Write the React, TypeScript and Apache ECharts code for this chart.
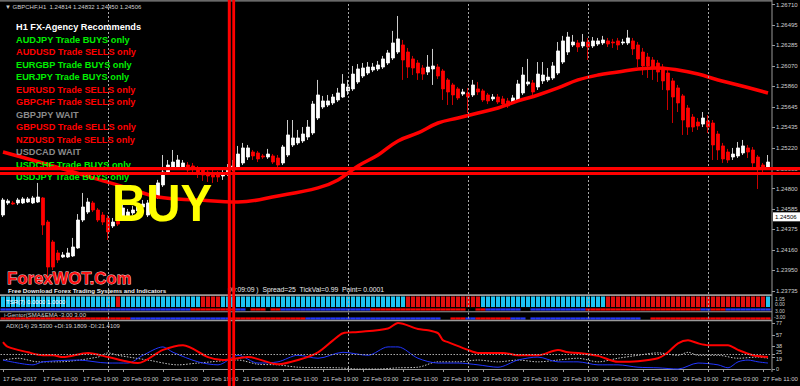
import React, { useEffect, useRef } from 'react';
import * as echarts from 'echarts';

const TICK_LABELS = ['17 Feb 2017','17 Feb 11:00','17 Feb 19:00','20 Feb 03:00','20 Feb 11:00','20 Feb 19:00','21 Feb 03:00','21 Feb 11:00','21 Feb 19:00','22 Feb 03:00','22 Feb 11:00','22 Feb 19:00','23 Feb 03:00','23 Feb 11:00','23 Feb 19:00','24 Feb 03:00','24 Feb 11:00','24 Feb 19:00','27 Feb 03:00','27 Feb 11:00'];
const DAY_BREAKS = [21, 45, 69, 93, 117, 141];
const PRICE_TICKS = [1.2671,1.26495,1.26285,1.2607,1.2586,1.25645,1.25435,1.2522,1.25005,1.248,1.24585,1.24375,1.2416,1.2395,1.23735];
const ADX_TICKS = [0, 19, 25, 38, 57, 77];
const LAST_PRICE = 1.24506;

const OPEN = [
1.24525,1.24650,1.24650,1.24650,1.24650,1.24660,1.24650,1.24660,1.24702,1.24452,
1.24245,1.24131,1.24089,1.24089,1.24100,1.24183,1.24473,1.24556,1.24650,1.24577,
1.24525,1.24494,1.24411,1.24473,1.24504,1.24504,1.24546,1.24567,1.24608,1.24525,
1.24639,1.24712,1.24837,1.24971,1.25023,1.25023,1.25013,1.25044,1.25034,1.25013,
1.24992,1.24971,1.24961,1.24950,1.24930,1.24961,1.25013,1.25023,1.25065,1.25127,
1.25179,1.25169,1.25138,1.25127,1.25138,1.25117,1.25065,1.25148,1.25252,1.25273,
1.25294,1.25335,1.25377,1.25532,1.25646,1.25667,1.25688,1.25719,1.25750,1.25813,
1.25834,1.25906,1.25968,1.25999,1.26030,1.26041,1.26061,1.26103,1.26155,1.26217,
1.26290,1.26217,1.26145,1.26103,1.26051,1.26009,1.26041,1.26061,1.26020,1.25927,
1.25875,1.25834,1.25781,1.25792,1.25771,1.25834,1.25813,1.25771,1.25730,1.25750,
1.25730,1.25709,1.25698,1.25719,1.25792,1.25885,1.25896,1.25854,1.25917,1.25927,
1.25947,1.25999,1.26113,1.26217,1.26290,1.26311,1.26280,1.26321,1.26280,1.26300,
1.26311,1.26332,1.26321,1.26332,1.26311,1.26311,1.26332,1.26290,1.26217,1.26165,
1.26134,1.26103,1.26061,1.25999,1.25917,1.25844,1.25761,1.25636,1.25542,1.25490,
1.25469,1.25501,1.25480,1.25366,1.25242,1.25179,1.25127,1.25138,1.25169,1.25221,
1.25200,1.25127,1.25044,1.25023];
const CLOSE = [
1.24681,1.24671,1.24639,1.24681,1.24692,1.24692,1.24702,1.24712,1.24421,1.23985,
1.23985,1.24058,1.24110,1.24131,1.24193,1.24473,1.24608,1.24660,1.24577,1.24473,
1.24452,1.24349,1.24452,1.24431,1.24598,1.24556,1.24577,1.24619,1.24639,1.24650,
1.24702,1.24858,1.24971,1.25044,1.25075,1.25096,1.25065,1.24992,1.25003,1.24961,
1.24940,1.24930,1.24919,1.24919,1.24961,1.25013,1.25034,1.25158,1.25221,1.25221,
1.25138,1.25107,1.25127,1.25158,1.25075,1.25044,1.25231,1.25356,1.25325,1.25325,
1.25366,1.25438,1.25677,1.25771,1.25709,1.25709,1.25750,1.25792,1.25885,1.25854,
1.25988,1.26041,1.26051,1.26061,1.26061,1.26082,1.26145,1.26207,1.26311,1.26353,
1.26134,1.26061,1.26051,1.25999,1.25988,1.26061,1.26072,1.25968,1.25834,1.25802,
1.25771,1.25740,1.25802,1.25750,1.25875,1.25802,1.25719,1.25709,1.25750,1.25698,
1.25677,1.25657,1.25740,1.25885,1.25978,1.25906,1.25802,1.25988,1.25978,1.25957,
1.26072,1.26228,1.26332,1.26373,1.26321,1.26269,1.26321,1.26269,1.26332,1.26332,
1.26342,1.26300,1.26311,1.26290,1.26321,1.26363,1.26249,1.26145,1.26072,1.26072,
1.26061,1.26009,1.25917,1.25823,1.25750,1.25688,1.25511,1.25438,1.25438,1.25449,
1.25532,1.25438,1.25252,1.25200,1.25107,1.25096,1.25158,1.25221,1.25242,1.25179,
1.25065,1.25023,1.25013,1.25075];
const HIGH = [
1.24702,1.24692,1.24671,1.24702,1.24712,1.24712,1.24723,1.24858,1.24712,1.24473,
1.24266,1.24162,1.24141,1.24183,1.24287,1.24535,1.24754,1.24702,1.24671,1.24598,
1.24556,1.24525,1.24494,1.24515,1.24629,1.24588,1.24619,1.24650,1.24681,1.24681,
1.24733,1.24889,1.25148,1.25096,1.25200,1.25148,1.25096,1.25075,1.25065,1.25034,
1.25013,1.24992,1.24992,1.24982,1.24992,1.25054,1.25096,1.25242,1.25273,1.25252,
1.25200,1.25190,1.25158,1.25211,1.25158,1.25148,1.25252,1.25511,1.25511,1.25408,
1.25438,1.25511,1.25709,1.25927,1.25761,1.25771,1.25781,1.25844,1.25988,1.25927,
1.26072,1.26092,1.26103,1.26113,1.26103,1.26124,1.26176,1.26238,1.26436,1.26591,
1.26342,1.26259,1.26176,1.26134,1.26082,1.26186,1.26249,1.26092,1.26041,1.25947,
1.25896,1.25854,1.25834,1.25844,1.25927,1.25906,1.25834,1.25792,1.25781,1.25781,
1.25761,1.25740,1.25771,1.25927,1.26061,1.26145,1.25927,1.26113,1.26113,1.26051,
1.26113,1.26321,1.26384,1.26425,1.26394,1.26342,1.26404,1.26363,1.26373,1.26363,
1.26384,1.26363,1.26353,1.26363,1.26353,1.26446,1.26363,1.26321,1.26259,1.26207,
1.26165,1.26134,1.26092,1.26030,1.25947,1.25875,1.25781,1.25667,1.25573,1.25532,
1.25594,1.25563,1.25511,1.25398,1.25273,1.25211,1.25221,1.25283,1.25304,1.25252,
1.25231,1.25148,1.25065,1.25148];
const LOW = [
1.24504,1.24629,1.24629,1.24629,1.24639,1.24650,1.24639,1.24650,1.24318,1.23892,
1.23954,1.24027,1.24079,1.24079,1.24089,1.24173,1.24452,1.24535,1.24556,1.24452,
1.24421,1.24266,1.24390,1.24411,1.24484,1.24484,1.24525,1.24546,1.24577,1.24504,
1.24619,1.24692,1.24816,1.24940,1.25003,1.25003,1.24992,1.24971,1.24971,1.24909,
1.24879,1.24868,1.24858,1.24868,1.24889,1.24930,1.24982,1.25013,1.25044,1.25096,
1.25096,1.25075,1.25107,1.25107,1.25054,1.25023,1.25044,1.25127,1.25231,1.25252,
1.25273,1.25304,1.25356,1.25511,1.25626,1.25646,1.25667,1.25698,1.25740,1.25771,
1.25813,1.25885,1.25947,1.25978,1.26009,1.26020,1.26041,1.26082,1.26134,1.26196,
1.25927,1.25947,1.25978,1.25927,1.25927,1.25978,1.25875,1.25937,1.25719,1.25667,
1.25667,1.25719,1.25761,1.25584,1.25750,1.25771,1.25698,1.25677,1.25709,1.25677,
1.25657,1.25636,1.25677,1.25698,1.25771,1.25865,1.25771,1.25823,1.25885,1.25906,
1.25927,1.25978,1.26092,1.26186,1.26269,1.26217,1.26259,1.26134,1.26259,1.26280,
1.26290,1.26269,1.26259,1.26238,1.26290,1.26290,1.26186,1.26061,1.25978,1.25947,
1.25927,1.25906,1.25823,1.25615,1.25480,1.25594,1.25356,1.25356,1.25387,1.25408,
1.25438,1.25377,1.25096,1.25096,1.25065,1.25065,1.25096,1.25117,1.25148,1.25117,
1.25023,1.24795,1.24940,1.24992];

const MA_POINTS = [[0,1.25179],[10,1.25034],[20,1.24879],[25,1.24806],[31,1.24712],[39,1.24681],[47,1.24660],[55,1.24723],[63,1.24806],[67,1.24889],[71,1.25034],[75,1.25148],[79,1.25294],[83,1.25377],[87,1.25480],[91,1.25532],[95,1.25584],[99,1.25636],[103,1.25709],[107,1.25771],[111,1.25844],[115,1.25927],[119,1.25978],[123,1.26009],[127,1.26041],[131,1.26051],[135,1.26030],[139,1.25988],[143,1.25927],[147,1.25875],[153,1.25792]];

const ADX_POINTS = [[0,45],[1,37],[5,28],[8,23],[10,23],[12,20],[17,27],[21,20],[25,12],[27,10],[32,32],[36,40],[41,20],[44,15],[47,18],[49,20],[55,8],[59,15],[63,28],[66,48],[68,60],[71,62],[77,68],[79,77],[83,67],[85,65],[87,60],[88,48],[89,45],[93,32],[95,27],[100,27],[103,23],[107,23],[111,32],[113,28],[115,27],[119,22],[123,12],[127,13],[131,18],[133,28],[135,43],[137,48],[139,43],[141,40],[145,40],[147,32],[150,23],[153,20]];
const PLUS_DI = [[0,15],[6,7],[8,12],[15,15],[21,10],[25,10],[28,23],[32,37],[34,28],[39,12],[43,7],[47,23],[51,10],[55,12],[59,23],[63,18],[68,28],[73,23],[77,37],[79,37],[83,18],[87,10],[91,10],[95,7],[99,3],[103,15],[107,20],[111,12],[115,12],[119,7],[123,7],[127,3],[131,2],[135,0],[139,10],[143,7],[145,2],[147,12],[149,15],[151,12],[153,10]];
const MINUS_DI = [[0,15],[3,18],[7,12],[11,12],[19,20],[21,27],[23,23],[29,15],[35,7],[39,10],[47,15],[51,8],[55,7],[59,3],[67,2],[71,0],[75,0],[79,2],[83,3],[87,12],[91,12],[95,15],[99,12],[103,15],[107,12],[111,15],[115,18],[119,12],[123,18],[127,23],[131,27],[135,23],[137,28],[139,23],[143,23],[147,18],[151,20],[153,18]];

// runs of [bar count, state]: C = cyan, R = red
const TSR_RUNS: [number, string][] = [[23,'C'],[1,'R'],[16,'C'],[4,'R'],[37,'C'],[15,'R'],[25,'C'],[32,'R'],[1,'C']];
// runs: B = blue, R = red, N = none
const GENTOR_TOP_RUNS: [number, string][] = [[38,'B'],[9,'R'],[2,'B'],[1,'N'],[3,'R'],[1,'N'],[2,'R'],[18,'B'],[19,'R'],[2,'N'],[2,'R'],[7,'B'],[2,'N'],[11,'B'],[23,'R'],[2,'B'],[3,'R'],[9,'B']];
const GENTOR_BOTTOM_RUNS: [number, string][] = [[26,'R'],[20,'B'],[15,'R'],[27,'B'],[2,'N'],[3,'R'],[2,'B'],[7,'R'],[3,'B'],[1,'N'],[22,'B'],[2,'N'],[24,'R']];

const RECOMMENDS: [string, string][] = [
  ['AUDJPY Trade BUYS only', 'buy'],
  ['AUDUSD Trade SELLS only', 'sell'],
  ['EURGBP Trade BUYS only', 'buy'],
  ['EURJPY Trade BUYS only', 'buy'],
  ['EURUSD Trade SELLS only', 'sell'],
  ['GBPCHF Trade SELLS only', 'sell'],
  ['GBPJPY WAIT', 'wait'],
  ['GBPUSD Trade SELLS only', 'sell'],
  ['NZDUSD Trade SELLS only', 'sell'],
  ['USDCAD WAIT', 'wait'],
  ['USDCHF Trade BUYS only', 'buy'],
  ['USDJPY Trade BUYS only', 'buy'],
];

const FONT = '"Liberation Sans", Arial, sans-serif';
const RED = '#ff0000';
const CYAN = '#1cc3f2';
const BLUE = '#2236ff';
const GRAY = '#9a9a9a';
const LABEL = '#cfcfcf';

function expand(runs: [number, string][]) {
  const out: string[] = [];
  runs.forEach(([n, s]) => { for (let k = 0; k < n; k++) out.push(s); });
  return out;
}

export default function App() {
  const ref = useRef<HTMLDivElement>(null);
  useEffect(() => {
    const chart = echarts.init(ref.current!, null, { renderer: 'svg' });
    const cats = OPEN.map((_, i) => String(i));
    const candles = OPEN.map((o, i) => [o, CLOSE[i], LOW[i], HIGH[i]]);
    const tsr = expand(TSR_RUNS).map((s) => ({ value: 1, itemStyle: { color: s === 'C' ? CYAN : '#e01010' } }));
    const gTop = expand(GENTOR_TOP_RUNS);
    const gBot = expand(GENTOR_BOTTOM_RUNS);
    const gentor: number[][] = [];
    gTop.forEach((s, i) => { if (s !== 'N') gentor.push([i, 3, s === 'R' ? 1 : 0]); });
    gBot.forEach((s, i) => { if (s !== 'N') gentor.push([i, -3, s === 'R' ? 1 : 0]); });

    const dayLines = (extra: any[] = []) => ({
      silent: true,
      symbol: 'none',
      label: { show: false },
      lineStyle: { color: '#a8a8a8', type: [2, 2], width: 1 },
      data: [...DAY_BREAKS.map((i) => ({ xAxis: i })), ...extra],
    });
    const showTick = (i: number) => i % 8 === 0;
    const grids = [
      { left: 0.5, top: 2, width: 770, height: 292 },
      { left: 0.5, top: 296.5, width: 770, height: 10.5 },
      { left: 0.5, top: 309.5, width: 770, height: 9 },
      { left: 0.5, top: 321, width: 770, height: 51 },
    ].map((g) => ({ ...g, containLabel: false, outerBoundsMode: 'none', show: false }));

    const xAxes = [0, 1, 2, 3].map((gi) => ({
      type: 'category',
      gridIndex: gi,
      data: cats,
      boundaryGap: true,
      show: gi === 3,
      axisLine: { show: gi === 3, lineStyle: { color: GRAY, width: 1 } },
      axisTick: { show: gi === 3, alignWithLabel: true, interval: (i: number) => showTick(i), length: 3, lineStyle: { color: GRAY } },
      axisLabel: {
        show: gi === 3,
        interval: (i: number) => showTick(i),
        formatter: (v: string) => TICK_LABELS[Number(v) / 8] ?? '',
        align: 'left',
        color: LABEL,
        fontSize: 6,
        fontFamily: FONT,
        margin: 4,
      },
      splitLine: { show: false },
    }));

    const yAxes = [
      {
        type: 'value', gridIndex: 0, position: 'right', offset: 1.5, min: 1.23705, max: 1.26736, scale: true,
        axisLine: { show: false },
        axisTick: { show: true, length: 3, customValues: PRICE_TICKS, lineStyle: { color: GRAY } },
        axisLabel: { customValues: PRICE_TICKS, formatter: (v: number) => v.toFixed(5), color: LABEL, fontSize: 6, fontFamily: FONT, margin: 4 },
        splitLine: { show: false },
      },
      { type: 'value', gridIndex: 1, min: 0, max: 1, show: false, splitLine: { show: false } },
      { type: 'value', gridIndex: 2, min: -3, max: 3, show: false, splitLine: { show: false } },
      {
        type: 'value', gridIndex: 3, position: 'right', offset: 1.5, min: -5, max: 80.4,
        axisLine: { show: false },
        axisTick: { show: true, length: 3, customValues: ADX_TICKS, lineStyle: { color: GRAY } },
        axisLabel: {
          customValues: ADX_TICKS,
          formatter: (v: number) => (v === 25 ? '{up|25}' : v === 19 ? '{dn|19}' : String(v)),
          rich: {
            up: { fontSize: 5.5, color: LABEL, fontFamily: FONT, padding: [0, 0, 3.5, 0] },
            dn: { fontSize: 5.5, color: LABEL, fontFamily: FONT, padding: [3.5, 0, 0, 0] },
          },
          color: LABEL, fontSize: 5.5, fontFamily: FONT, margin: 4,
        },
        splitLine: { show: false },
      },
    ];

    const txt = (text: string, x: number, y: number, fill: string, font: string, extra: any = {}, el: any = {}) => ({
      type: 'text', z: 50, silent: true, ...el,
      style: { text, x, y, fill, font, verticalAlign: 'middle', align: 'left', ...extra },
    });
    const rect = (x: number, y: number, w: number, h: number, fill: string, z = 40) => ({
      type: 'rect', z, silent: true, shape: { x, y, width: w, height: h }, style: { fill },
    });

    const recColor: Record<string, string> = { buy: '#00ee00', sell: '#ff0000', wait: '#8a8a8a' };
    const graphics: any[] = [
      rect(0, 0.3, 772, 1.2, '#8c8c8c'),
      rect(771.5, 0, 1, 372, GRAY),
      rect(0, 294.3, 772, 1.6, GRAY),
      rect(0, 311.2, 772, 1, GRAY),
      rect(0, 319.8, 772, 1.5, GRAY),
      txt('\u25BC GBPCHF,H1  1.24814 1.24832 1.24450 1.24506', 5, 7, LABEL, `6px ${FONT}`),
      txt('H1 FX-Agency Recommends', 16, 27, '#ffffff', `bold 9.2px ${FONT}`),
      ...RECOMMENDS.map(([t, k], i) => txt(t, 16, 40 + i * 12.45, recColor[k], `bold 9.2px ${FONT}`)),
      txt('BUY', 0, 0, '#ffff00', `bold 47.5px ${FONT}`, {}, { x: 112, y: 203.5, scaleY: 1.09 }),
      txt('ForexWOT.Com', 7, 278.5, '#ff1010', `bold 16.7px ${FONT}`, { stroke: '#ffd8d8', lineWidth: 0.8 }),
      txt('Free Download Forex Trading Systems and Indicators', 8, 290, '#f0f0f0', `bold 6.2px ${FONT}`),
      txt('00:09:09 )  Spread=25  TickVal=0.99  Point= 0.0001', 228, 289, '#e8e8e8', `6.8px ${FONT}`),
      txt('TSR(7) 0.0000 1.0000', 6, 301.5, '#ffffff', `6px ${FONT}`),
      txt('i-Gentor(SMA&EMA -3.00 3.00', 4, 314.5, LABEL, `6px ${FONT}`),
      txt('ADX(14) 29.5300 +DI:19.1809 -DI:21.4109', 6, 325.5, LABEL, `6px ${FONT}`),
      txt('1.05', 775, 298.5, LABEL, `5px ${FONT}`),
      txt('0.00', 775, 303.8, LABEL, `5px ${FONT}`),
      txt('3.00', 775, 311, LABEL, `5px ${FONT}`),
      txt('-3.00', 774, 316.5, LABEL, `5px ${FONT}`),
      rect(227.8, 0, 3, 386, RED, 100),
      rect(232.3, 0, 2.8, 386, RED, 100),
      rect(0, 167, 800, 3.2, RED, 100),
      rect(0, 172, 800, 3, RED, 100),
    ];

    const option: any = {
      animation: false,
      backgroundColor: '#000000',
      grid: grids,
      xAxis: xAxes,
      yAxis: yAxes,
      graphic: { elements: graphics },
      series: [
        {
          type: 'candlestick', xAxisIndex: 0, yAxisIndex: 0, data: candles, barWidth: 3,
          itemStyle: { color: '#ffffff', color0: '#ff0000', borderColor: '#ffffff', borderColor0: '#ff0000', borderWidth: 0.8 },
          markLine: dayLines(),
          z: 3,
        },
        {
          type: 'line', xAxisIndex: 0, yAxisIndex: 0, data: MA_POINTS, smooth: 0.4, symbol: 'none',
          lineStyle: { color: RED, width: 3.5 }, z: 4,
        },
        {
          type: 'bar', xAxisIndex: 1, yAxisIndex: 1, data: tsr, barWidth: 4, markLine: dayLines(), z: 2,
        },
        {
          type: 'custom', xAxisIndex: 2, yAxisIndex: 2, data: gentor,
          renderItem: (_p: any, api: any) => {
            const pt = api.coord([api.value(0), api.value(1)]);
            const w = api.size([1, 0])[0];
            return { type: 'rect', shape: { x: pt[0] - w / 2, y: pt[1] - 1.1, width: w, height: 2.2 }, style: { fill: api.value(2) === 1 ? RED : BLUE } };
          },
          markLine: dayLines(), z: 2,
        },
        {
          type: 'line', xAxisIndex: 3, yAxisIndex: 3, data: MINUS_DI, smooth: 0.3, symbol: 'none',
          lineStyle: { color: '#c8c8c8', width: 1, type: [1.5, 1.5] },
          markLine: dayLines([{ yAxis: 25, lineStyle: { color: '#a8a8a8', type: [1.5, 1.5], width: 1 } }]),
        },
        { type: 'line', xAxisIndex: 3, yAxisIndex: 3, data: PLUS_DI, smooth: 0.3, symbol: 'none', lineStyle: { color: BLUE, width: 1 } },
        { type: 'line', xAxisIndex: 3, yAxisIndex: 3, data: ADX_POINTS, smooth: 0.3, symbol: 'none', lineStyle: { color: RED, width: 2 } },
      ],
    };
    chart.setOption(option);
    // last-price marker on the price axis, placed through the axis scale
    const py = chart.convertToPixel({ yAxisIndex: 0 }, LAST_PRICE) as number;
    chart.setOption({
      graphic: {
        elements: [
          ...graphics,
          { type: 'rect', z: 60, silent: true, shape: { x: 773, y: py - 4.5, width: 27, height: 9 }, style: { fill: '#ffffff' } },
          { type: 'text', z: 61, silent: true, style: { text: LAST_PRICE.toFixed(5), x: 775, y: py, fill: '#000000', font: `6px ${FONT}`, verticalAlign: 'middle', align: 'left' } },
        ],
      },
    });
    return () => chart.dispose();
  }, []);
  return <div ref={ref} style={{ position: 'fixed', left: 0, top: 0, width: 800, height: 386 }} />;
}
